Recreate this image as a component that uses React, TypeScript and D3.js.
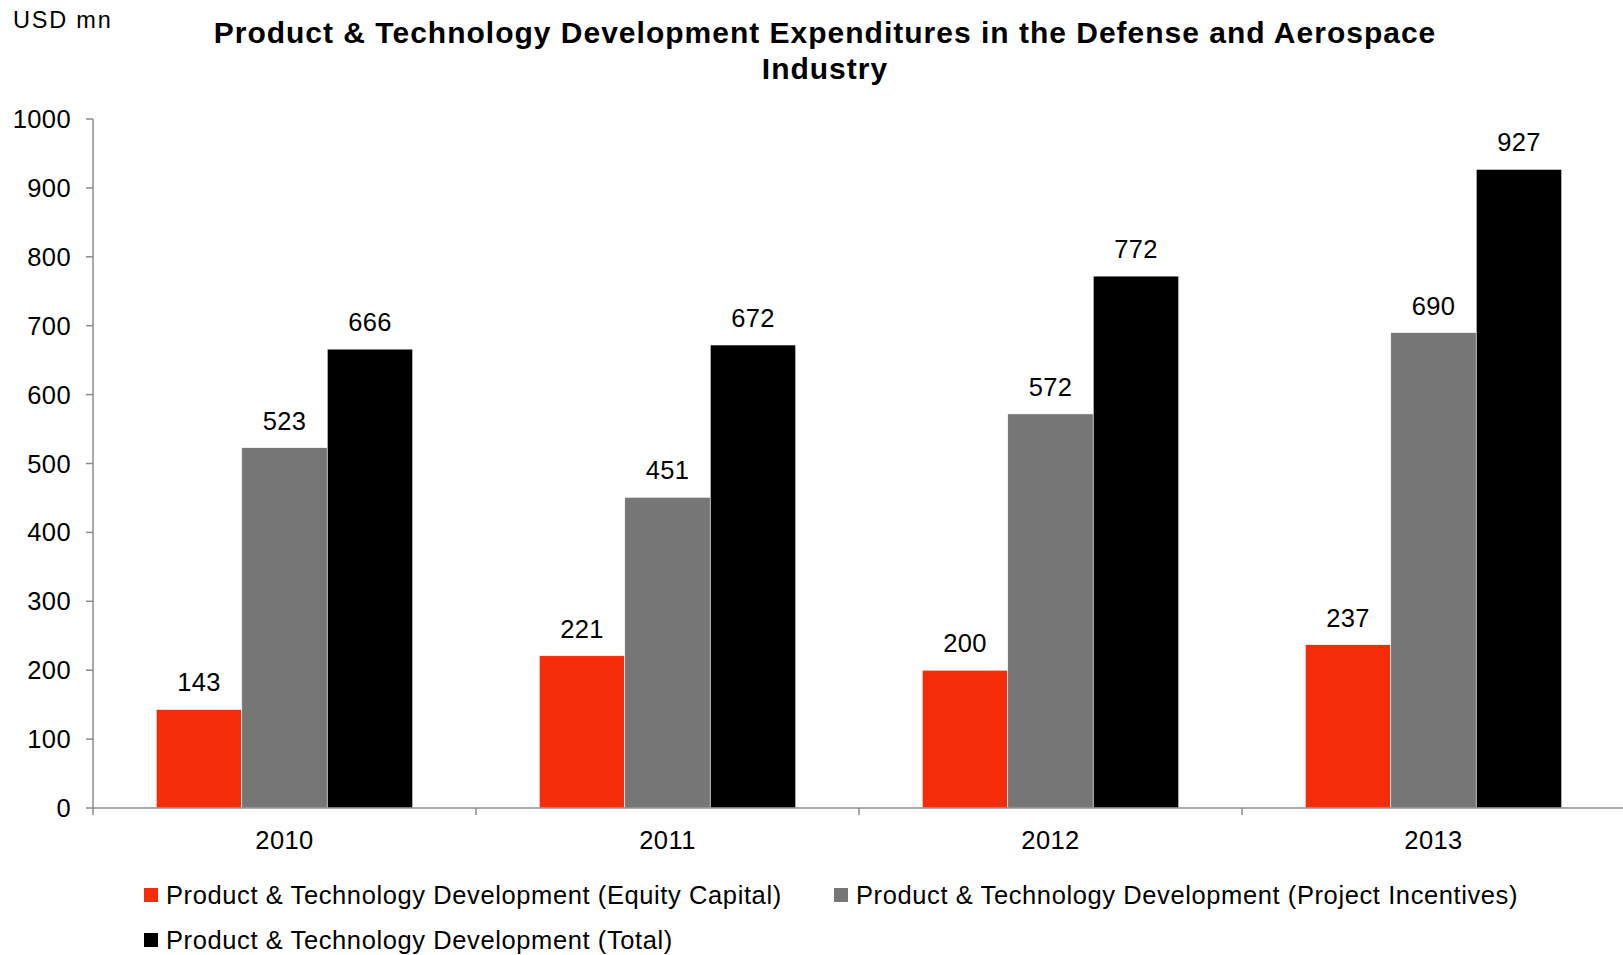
import * as d3 from "d3";

const years = ["2010", "2011", "2012", "2013"];
const series = [
  "Product & Technology Development (Equity Capital)",
  "Product & Technology Development (Project Incentives)",
  "Product & Technology Development (Total)",
];
const equity = [143, 221, 200, 237];
const incentives = [523, 451, 572, 690];
const total = [666, 672, 772, 927];
const yTicks = [0, 100, 200, 300, 400, 500, 600, 700, 800, 900, 1000];
const colors = ["#f52c09", "#767676", "#000000"];

const W = 1623;
const H = 955;
const font = "'Liberation Sans', Arial, sans-serif";

export default function App() {
  const values = [equity, incentives, total];
  const x0 = d3.scaleBand().domain(years).range([93, 1625]).padding(0);
  const x1 = d3
    .scaleBand()
    .domain(series)
    .range([0, x0.bandwidth()])
    .paddingInner(0)
    .paddingOuter(0.74);
  const y = d3.scaleLinear().domain([0, 1000]).range([808, 119]);

  return (
    <svg
      width={W}
      height={H}
      style={{ position: "absolute", left: 0, top: 0, background: "#fff" }}
      fontFamily={font}
    >
      <text x={13} y={28} fontSize={23.5} letterSpacing={1.8} fill="#000">
        USD mn
      </text>
      <text
        x={825}
        y={43}
        fontSize={30}
        fontWeight="bold"
        letterSpacing={1}
        textAnchor="middle"
      >
        Product &amp; Technology Development Expenditures in the Defense and Aerospace
      </text>
      <text
        x={825}
        y={79}
        fontSize={30}
        fontWeight="bold"
        letterSpacing={1}
        textAnchor="middle"
      >
        Industry
      </text>

      {/* y axis */}
      <line x1={93} x2={93} y1={y(1000)} y2={y(0)} stroke="#8c8c8c" strokeWidth={1.5} />
      {yTicks.map((t) => (
        <g key={t}>
          <line x1={86} x2={93} y1={y(t)} y2={y(t)} stroke="#8c8c8c" strokeWidth={1.5} />
          <text x={71} y={y(t) + 9} fontSize={25.5} letterSpacing={0.4} textAnchor="end">
            {t}
          </text>
        </g>
      ))}

      {/* bars */}
      {years.map((yr, i) => (
        <g key={yr} transform={`translate(${x0(yr)},0)`}>
          {series.map((s, j) => {
            const v = values[j][i];
            return (
              <g key={s}>
                <rect
                  x={x1(s)}
                  y={y(v)}
                  width={x1.bandwidth()}
                  height={y(0) - y(v)}
                  fill={colors[j]}
                  stroke="#ffffff"
                  strokeWidth={0.6}
                />
                <text
                  x={(x1(s) as number) + x1.bandwidth() / 2}
                  y={y(v) - 18}
                  fontSize={25.5}
                  letterSpacing={0.3}
                  textAnchor="middle"
                >
                  {v}
                </text>
              </g>
            );
          })}
        </g>
      ))}

      {/* x axis */}
      <line x1={93} x2={W} y1={y(0)} y2={y(0)} stroke="#8c8c8c" strokeWidth={1.5} />
      {years.map((yr) => (
        <line
          key={"t" + yr}
          x1={x0(yr)}
          x2={x0(yr)}
          y1={y(0)}
          y2={y(0) + 7}
          stroke="#8c8c8c"
          strokeWidth={1.5}
        />
      ))}
      {years.map((yr) => (
        <text
          key={"l" + yr}
          x={(x0(yr) as number) + x0.bandwidth() / 2}
          y={849}
          fontSize={25.5}
          letterSpacing={0.4}
          textAnchor="middle"
        >
          {yr}
        </text>
      ))}

      {/* legend */}
      {[
        { x: 144, y: 888, i: 0 },
        { x: 834, y: 888, i: 1 },
        { x: 144, y: 933, i: 2 },
      ].map((p) => (
        <g key={p.i}>
          <rect x={p.x} y={p.y} width={14} height={14} fill={colors[p.i]} />
          <text x={p.x + 22} y={p.y + 16} fontSize={25.5} letterSpacing={0.6}>
            {series[p.i]}
          </text>
        </g>
      ))}
    </svg>
  );
}
